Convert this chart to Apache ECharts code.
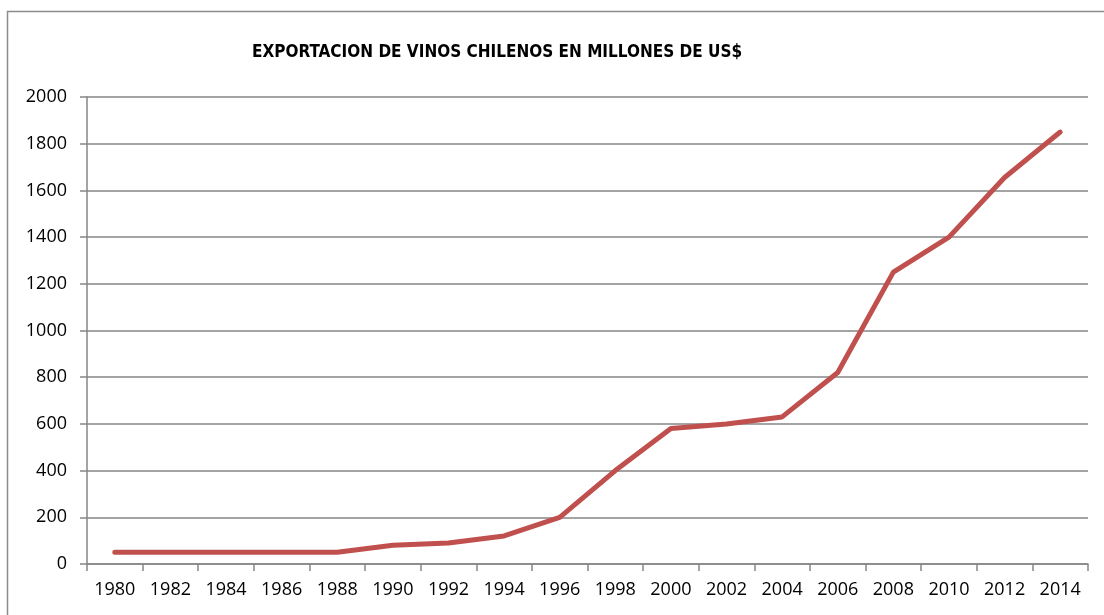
<!DOCTYPE html>
<html>
<head>
<meta charset="utf-8">
<script src="https://cdn.jsdelivr.net/npm/echarts@6/dist/echarts.min.js"></script>
<style>
html, body { margin: 0; padding: 0; background: #fff; }
#chart { width: 1104px; height: 615px; }
</style>
</head>
<body>
<div id="chart"></div>
<script>
var years = ["1980", "1982", "1984", "1986", "1988", "1990", "1992", "1994", "1996",
  "1998", "2000", "2002", "2004", "2006", "2008", "2010", "2012", "2014"];
var exportValues = [50, 50, 50, 50, 50, 80, 90, 120, 200,
  400, 580, 600, 630, 820, 1250, 1400, 1655, 1850];
var yTicks = [0, 200, 400, 600, 800, 1000, 1200, 1400, 1600, 1800, 2000];

var chart = echarts.init(document.getElementById("chart"));
var gray = "#868686";

var option = {
  animation: false,
  backgroundColor: "#fff",
  title: {
    text: "EXPORTACION DE VINOS CHILENOS EN MILLONES DE US$",
    left: 492,
    textAlign: "center",
    top: 39,
    textStyle: {
      fontFamily: "DejaVu Sans Condensed, Open Sans, sans-serif",
      fontWeight: "bold",
      fontSize: 17,
      color: "#000"
    }
  },
  graphic: [{
    type: "rect",
    shape: { x: 7.5, y: 11.5, width: 1200, height: 700 },
    style: { fill: "none", stroke: "#8c8c8c", lineWidth: 1.5 },
    silent: true
  }],
  grid: { left: 87, right: 16, top: 97, bottom: 51 },
  xAxis: {
    type: "category",
    data: years,
    boundaryGap: true,
    axisLine: { lineStyle: { color: gray, width: 1.5 } },
    axisTick: { show: true, length: 7, alignWithLabel: false, lineStyle: { color: gray, width: 1.5 } },
    axisLabel: {
      margin: 17,
      fontFamily: "Open Sans, sans-serif",
      fontSize: 18,
      color: "#000",
      interval: 0
    }
  },
  yAxis: {
    type: "value",
    min: yTicks[0],
    max: yTicks[yTicks.length - 1],
    interval: 200,
    axisLine: { show: true, lineStyle: { color: gray, width: 1.5 } },
    axisTick: { show: true, length: 7, lineStyle: { color: gray, width: 1.5 } },
    splitLine: { lineStyle: { color: gray, width: 1.5 } },
    axisLabel: {
      margin: 20,
      fontFamily: "Open Sans, sans-serif",
      fontSize: 18,
      color: "#000",
      formatter: function (v) { return String(v); }
    }
  },
  series: [{
    type: "line",
    data: exportValues,
    showSymbol: false,
    lineStyle: { color: "#C0504D", width: 5, cap: "round", join: "round" },
    itemStyle: { color: "#C0504D" }
  }]
};

chart.setOption(option);
</script>
</body>
</html>
